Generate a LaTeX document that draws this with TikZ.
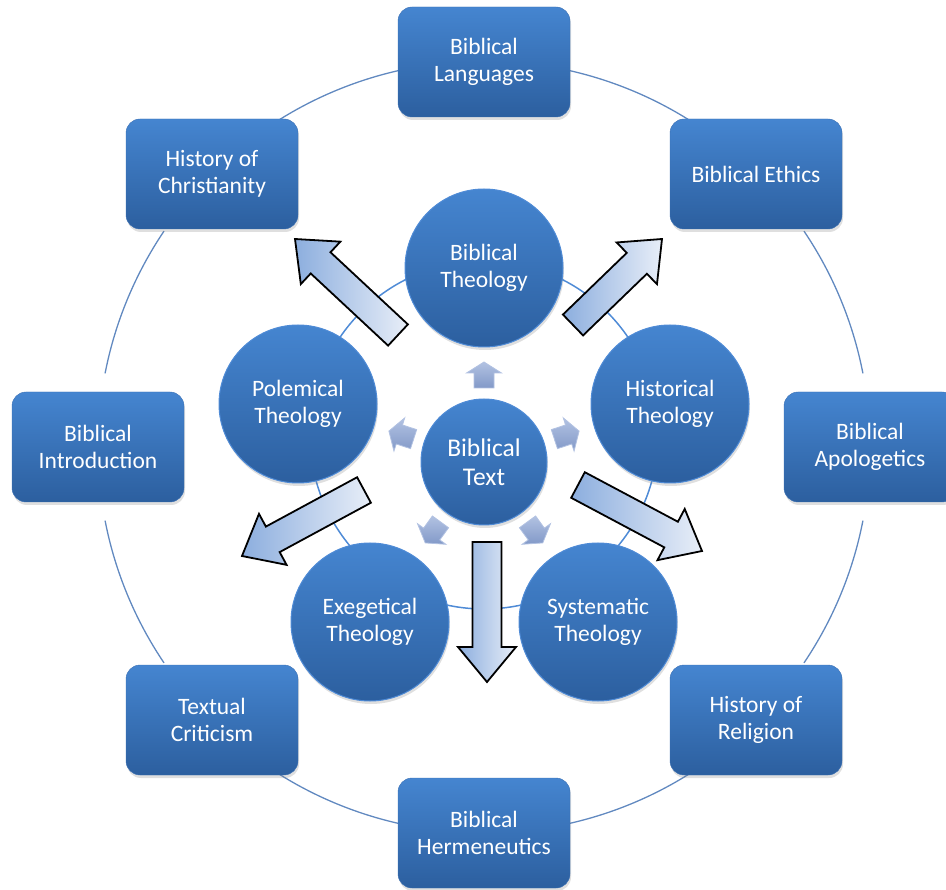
\documentclass[tikz,border=0pt]{standalone}
\usepackage{fontspec}
\setmainfont{Carlito}
\usepackage{tikz}
\usetikzlibrary{calc,shadows}

\definecolor{boxtop}{HTML}{4585D0}
\definecolor{boxbottom}{HTML}{2C5F9F}
\definecolor{boxedge}{HTML}{3B70B4}
\definecolor{ringblue}{HTML}{6189C0}
\definecolor{innerblue}{HTML}{4F8BD6}
\definecolor{arrowdark}{HTML}{8CAEDE}
\definecolor{arrowlight}{HTML}{E8EEF8}
\definecolor{smalldark}{HTML}{8299C8}
\definecolor{smalllight}{HTML}{B2C2E2}

% block arrow: style, tail, tip, half shaft, half head, head length
\newcommand{\blockarrow}[6]{%
  \coordinate (hb) at ($(#3)!#6!(#2)$);
  \path[#1] ($(#2)!#4!90:(#3)$) -- ($(hb)!#4!-90:(#2)$) -- ($(hb)!#5!-90:(#2)$) -- (#3)
    -- ($(hb)!#5!90:(#2)$) -- ($(hb)!#4!90:(#2)$) -- ($(#2)!#4!-90:(#3)$) -- cycle;
}

\begin{document}
\begin{tikzpicture}[x=1pt,y=-1pt]
\tikzstyle{subject}=[rectangle, rounded corners=14pt, minimum width=172pt, minimum height=110pt, align=center, text=white, top color=boxtop, bottom color=boxbottom, draw=boxedge, drop shadow={opacity=0.25, shadow xshift=1pt, shadow yshift=-3pt}, font=\fontsize{23.5}{27}\selectfont]
\tikzstyle{theology}=[circle, minimum size=158pt, inner sep=0pt, align=center, text=white, top color=boxtop, bottom color=boxbottom, draw=innerblue, line width=1pt, drop shadow={opacity=0.25, shadow xshift=1pt, shadow yshift=-3pt}, font=\fontsize{23.5}{27}\selectfont]
\tikzstyle{outerring}=[draw=ringblue, line width=1.3pt]
\tikzstyle{innerring}=[draw=innerblue, line width=1.5pt]
\tikzstyle{bigarrow}=[draw=black, line width=1.8pt, left color=arrowdark, right color=arrowlight]
\tikzstyle{smallarrow}=[draw=smalllight, line width=0.8pt, top color=smalllight, bottom color=smalldark]
  \useasboundingbox (0,0) rectangle (946,890);

  % rings behind the shapes
  \foreach \a in {0,45,...,315}
    \draw[outerring] ($(484,447)+(\a+11:386)$) arc[start angle=\a+11, end angle=\a+34, radius=386];
  \draw[innerring] (484,435) circle[radius=174];

  % outer subjects
  \node[subject] (lang) at (484,62) {Biblical\\Languages};
  \node[subject] (ethics) at (756,174) {Biblical Ethics};
  \node[subject] (apol) at (870,447) {Biblical\\Apologetics};
  \node[subject] (relig) at (756,720) {History of\\Religion};
  \node[subject] (herm) at (484,833) {Biblical\\Hermeneutics};
  \node[subject] (textcrit) at (212,720) {Textual\\Criticism};
  \node[subject] (intro) at (98,447) {Biblical\\Introduction};
  \node[subject] (christ) at (212,174) {History of\\Christianity};

  % theologies
  \node[theology] (bibtheo) at (484,268) {Biblical\\Theology};
  \node[theology] (histtheo) at (670,404) {Historical\\Theology};
  \node[theology] (systheo) at (598,622) {Systematic\\Theology};
  \node[theology] (exegtheo) at (370,622) {Exegetical\\Theology};
  \node[theology] (poltheo) at (298,404) {Polemical\\Theology};
  \node[theology, minimum size=126pt, font=\fontsize{25.5}{29}\selectfont] (text) at (484,462) {Biblical\\Text};

  % small arrows out of the text
  \foreach \a in {-90,-18,54,126,198} {
    \coordinate (st) at ($(text.center)+(\a:74)$);
    \coordinate (sp) at ($(text.center)+(\a:100)$);
    \blockarrow{smallarrow}{st}{sp}{10pt}{17.5pt}{11pt}
  }

  % big arrows
  \coordinate (ulA) at (398,335); \coordinate (ulB) at (295,239);
  \coordinate (urA) at (573,325); \coordinate (urB) at (662,239);
  \coordinate (llA) at (364,490); \coordinate (llB) at (242,556);
  \coordinate (lrA) at (578,485); \coordinate (lrB) at (702,551);
  \coordinate (dnA) at (487,542); \coordinate (dnB) at (487,682);
  \blockarrow{bigarrow}{ulA}{ulB}{14.5pt}{29pt}{35pt}
  \blockarrow{bigarrow}{urA}{urB}{14.5pt}{29pt}{35pt}
  \blockarrow{bigarrow}{llA}{llB}{14.5pt}{29pt}{35pt}
  \blockarrow{bigarrow}{lrA}{lrB}{14.5pt}{29pt}{35pt}
  \blockarrow{bigarrow}{dnA}{dnB}{14.5pt}{29pt}{35pt}
\end{tikzpicture}
\end{document}
